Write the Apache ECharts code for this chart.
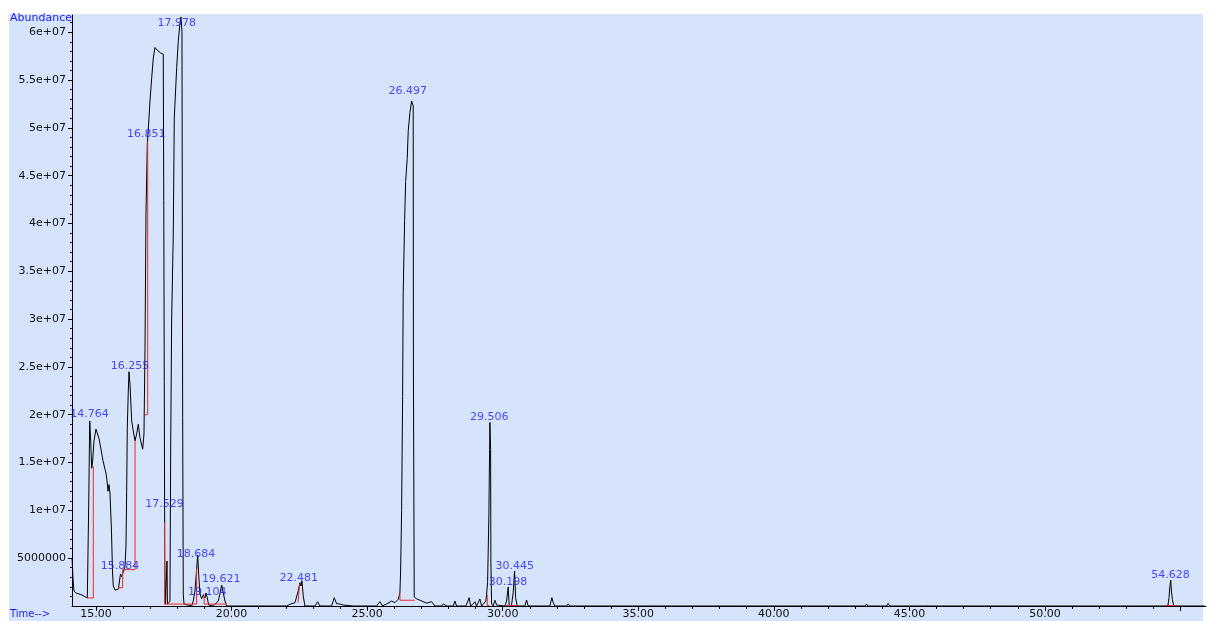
<!DOCTYPE html>
<html>
<head>
<meta charset="utf-8">
<script src="https://cdn.jsdelivr.net/npm/echarts@6/dist/echarts.min.js"></script>
<style>
html,body{margin:0;padding:0;background:#fff;}
#chart{width:1209px;height:621px;}
</style>
</head>
<body>
<div id="chart"></div>
<script>
// ---- Data ----
const traceTime = [
14.115,14.133,14.152,14.189,14.262,14.484,14.679,14.694,14.731,14.768,14.805,14.841,14.871,14.926,15.0,15.048,15.111,15.184,15.258,15.332,15.369,15.406,15.442,15.479,15.516,15.535,15.571,15.608,15.638,15.701,15.774,15.83,15.866,15.903,15.94,15.995,16.069,16.106,16.132,16.154,16.191,16.217,16.254,16.316,16.375,16.438,16.5,16.56,16.622,16.722,16.77,16.807,16.844,16.892,16.936,16.991,17.054,17.113,17.175,17.23,17.286,17.334,17.397,17.481,17.5,17.518,17.537,17.562,17.6,17.618,17.636,17.728,17.754,17.79,17.85,17.887,17.976,18.035,18.097,18.134,18.171,18.197,18.219,18.245,
18.529,18.588,18.65,18.713,18.75,18.787,18.835,18.897,18.956,19.019,19.056,19.104,19.156,19.325,19.509,19.572,19.635,19.694,19.757,19.819,20.31,21.047,
22.032,22.153,22.338,22.459,22.522,22.559,22.596,22.644,22.706,23.075,23.175,23.26,23.691,23.787,23.875,23.997,24.119,24.487,
25.35,25.472,25.571,25.719,25.903,26.025,26.147,26.209,26.235,26.272,26.309,26.331,26.383,26.42,26.479,26.515,26.578,26.641,26.678,26.70,26.707,26.737,26.825,26.947,27.194,27.378,27.5,27.75,27.806,27.942,28.18,28.237,28.30,28.643,28.765,28.816,28.912,28.975,29.038,29.159,29.222,29.38,29.406,29.443,29.491,29.517,29.528,29.554,29.565,29.591,29.65,29.712,29.775,
30.081,30.144,30.203,30.24,30.321,30.387,30.439,30.476,30.535,30.819,30.881,30.94,31.74,31.814,31.862,31.925,32.36,32.415,32.478,33.16,33.215,33.29,34.70,34.753,34.8,35.50,35.549,35.61,35.75,35.796,35.87,
43.36,43.418,43.485,44.16,44.215,44.277,45.27,45.321,45.383,46.07,46.121,46.19,
54.454,54.539,54.576,54.602,54.639,54.664,54.701,54.749,55.9
];
const traceAbund = [
5.02e6,4.08e6,2.82e6,1.57e6,1.36e6,1.15e6,0.84e6,3.45e6,10.46e6,19.35e6,17.26e6,14.4e6,14.96e6,17.26e6,18.5e6,18.6e6,17.5e6,16.4e6,15.2e6,14.3e6,13.9e6,13.1e6,12.0e6,12.7e6,11.8e6,10.46e6,7.85e6,3.66e6,2.09e6,1.67e6,1.57e6,1.78e6,2.62e6,3.35e6,3.03e6,3.14e6,4.08e6,6.28e6,12.0e6,18.6e6,22.5e6,24.5e6,23.2e6,19.35e6,18.3e6,17.26e6,18.0e6,19.0e6,17.6e6,16.4e6,18.0e6,27.0e6,41.0e6,48.3e6,50.2e6,52.8e6,55.2e6,57.3e6,58.4e6,58.5e6,58.05e6,58.2e6,57.8e6,57.7e6,42.4e6,23.5e6,4.7e6,0.2e6,0.2e6,4.7e6,0.2e6,0.5e6,16.2e6,29.8e6,38.9e6,51.0e6,56.3e6,59.1e6,60.9e6,61.6e6,60.1e6,19.7e6,1.26e6,0.21e6,
0,0.52e6,1.57e6,3.87e6,5.33e6,3.35e6,1.26e6,0.73e6,1.15e6,0.84e6,1.36e6,0.84e6,0.1e6,0,0.52e6,1.26e6,2.2e6,1.36e6,0.52e6,0,0,0,
0,0.18e6,0.35e6,1.57e6,2.44e6,2.09e6,2.62e6,1.05e6,0,0,0.45e6,0,0,0.87e6,0.24e6,0.21e6,0.1e6,0,
0,0.45e6,0,0.21e6,0.52e6,0.35e6,0.7e6,1.36e6,3.56e6,10.0e6,21.9e6,32.8e6,40.3e6,44.4e6,46.8e6,49.6e6,51.6e6,52.8e6,53.0e6,52.3e6,24.9e6,0.95e6,0.75e6,0.6e6,0.3e6,0.45e6,0,0,0.21e6,0,0,0.52e6,0,0,0.87e6,0,0.21e6,0.45e6,0,0.73e6,0,0.52e6,1.22e6,2.44e6,9.41e6,16.4e6,19.2e6,16.4e6,4.53e6,0.21e6,0,0.6e6,0.1e6,
0,0.52e6,1.99e6,0.1e6,0,1.39e6,3.66e6,0.87e6,0,0,0.63e6,0,0,0.87e6,0.35e6,0,0,0.21e6,0,0,0.1e6,0,0,0.1e6,0,0,0.16e6,0,0,0.1e6,0,
0,0.21e6,0,0,0.26e6,0,0,0.1e6,0,0,0.1e6,0,
0,0.1e6,0.87e6,1.91e6,2.69e6,1.57e6,0.7e6,0,0
];

// integration baselines / drop lines (red)
const baseTimes = [
  [14.68,14.90,14.90],
  [15.82,15.985,15.985,16.44,16.44],
  [16.807,16.906,16.906],
  [17.53,17.53,18.71,18.71],
  [18.99,18.99,19.82],
  [22.45,22.51,22.51],
  [26.21,26.21,26.76],
  [29.43,29.43,29.50],
  [30.12,30.54],
  [54.42,54.78]
];
const baseAbund = [
  [0.84e6,0.84e6,14.6e6],
  [1.9e6,1.9e6,3.8e6,3.8e6,17.3e6],
  [20.0e6,20.0e6,48.6e6],
  [8.7e6,0.2e6,0.2e6,3.9e6],
  [1.0e6,0.2e6,0.2e6],
  [0.35e6,0.35e6,2.3e6],
  [1.3e6,0.6e6,0.6e6],
  [1.2e6,0.05e6,0.05e6],
  [0.05e6,0.05e6],
  [0.05e6,0.05e6]
];

// peak retention-time labels and the abundance level where each label sits
const peakTimes = [14.764,15.884,16.255,16.851,17.529,17.978,18.684,19.104,19.621,22.481,26.497,29.506,30.198,30.445,54.628];
const peakLabelLevel = [20.05e6,4.2e6,25.1e6,49.3e6,10.6e6,61.0e6,5.4e6,1.5e6,2.8e6,2.9e6,53.8e6,19.8e6,2.5e6,4.2e6,3.2e6];

// axis ticks
const xLabelTicks = [15,20,25,30,35,40,45,50];
const xMajorTicks = [15,20,25,30,35,40,45,50,55];
const xMinorTicks = [];
for (let m = 15; m <= 55; m++) xMinorTicks.push(m);
const yLabelTicks = [5e6,10e6,15e6,20e6,25e6,30e6,35e6,40e6,45e6,50e6,55e6,60e6];
const yMinorTicks = [];
for (let k = 1; k <= 61; k++) yMinorTicks.push(k * 1e6);

// ---- Chart ----
const FONT = 'DejaVu Sans';
const BLUE = '#1c1cf4';
const chart = echarts.init(document.getElementById('chart'), null, {renderer: 'canvas'});

const traceData = traceTime.map((t, i) => [t, traceAbund[i]]);
const redSeries = baseTimes.map((ts, g) => ({
  type: 'line',
  data: ts.map((t, i) => [t, baseAbund[g][i]]),
  showSymbol: false,
  symbol: 'none',
  lineStyle: {color: '#f02828', width: 1},
  z: 4,
  silent: true,
  animation: false
}));

function yFmt(v) {
  if (v === 0) return '';
  if (v < 1e7) return String(v);
  return (Math.round(v / 1e6) / 10) + 'e+07';
}

const XMIN = 14.115, XMAX = 55.94, YMAX = 61.8e6;

chart.setOption({
  animation: false,
  backgroundColor: '#ffffff',
  graphic: [
    {type: 'rect', shape: {x: 9, y: 14, width: 1194, height: 607}, style: {fill: 'rgb(213,228,250)'}, z: -100, silent: true},
    {type: 'text', left: 10, top: 13, style: {text: 'Abundance', fill: BLUE, font: '11px "DejaVu Sans"'}, z: 10, silent: true},
    {type: 'text', left: 10, top: 609, style: {text: 'Time-->', fill: BLUE, font: '10px "DejaVu Sans"'}, z: 10, silent: true}
  ],
  grid: {left: 72, right: 3, top: 15, bottom: 15, containLabel: false},
  xAxis: [
    {
      type: 'value', min: XMIN, max: XMAX,
      axisLine: {show: true, onZero: false, lineStyle: {color: '#000', width: 1}},
      axisTick: {show: true, customValues: xMajorTicks, length: 5, lineStyle: {color: '#000'}},
      axisLabel: {show: true, customValues: xLabelTicks, formatter: v => v.toFixed(2), color: '#111', fontFamily: FONT, fontSize: 11, margin: 3},
      splitLine: {show: false}
    },
    {
      type: 'value', min: XMIN, max: XMAX, position: 'bottom', offset: 0,
      axisLine: {show: false, onZero: false},
      axisTick: {show: true, customValues: xMinorTicks, length: 3, lineStyle: {color: '#000'}},
      axisLabel: {show: false},
      splitLine: {show: false}
    }
  ],
  yAxis: [
    {
      type: 'value', min: 0, max: YMAX,
      axisLine: {show: true, onZero: false, lineStyle: {color: '#000', width: 1}},
      axisTick: {show: true, customValues: yLabelTicks, length: 4, lineStyle: {color: '#000'}},
      axisLabel: {show: true, customValues: yLabelTicks, formatter: yFmt, color: '#111', fontFamily: FONT, fontSize: 11, margin: 6},
      splitLine: {show: false}
    },
    {
      type: 'value', min: 0, max: YMAX, position: 'left', offset: 0,
      axisLine: {show: false, onZero: false},
      axisTick: {show: true, customValues: yMinorTicks, length: 2, lineStyle: {color: '#000'}},
      axisLabel: {show: false},
      splitLine: {show: false}
    }
  ],
  series: [
    {
      type: 'line',
      data: traceData,
      showSymbol: false,
      symbol: 'none',
      lineStyle: {color: '#000000', width: 1},
      z: 3,
      silent: true,
      animation: false
    },
    ...redSeries,
    {
      type: 'scatter',
      data: peakTimes.map((t, i) => [t, peakLabelLevel[i]]),
      symbolSize: 0.1,
      itemStyle: {color: 'rgba(0,0,0,0)'},
      label: {
        show: true,
        position: 'inside',
        formatter: p => p.value[0].toFixed(3),
        color: BLUE,
        fontFamily: FONT,
        fontSize: 11
      },
      z: 6,
      silent: true,
      animation: false
    }
  ]
});
</script>
</body>
</html>
